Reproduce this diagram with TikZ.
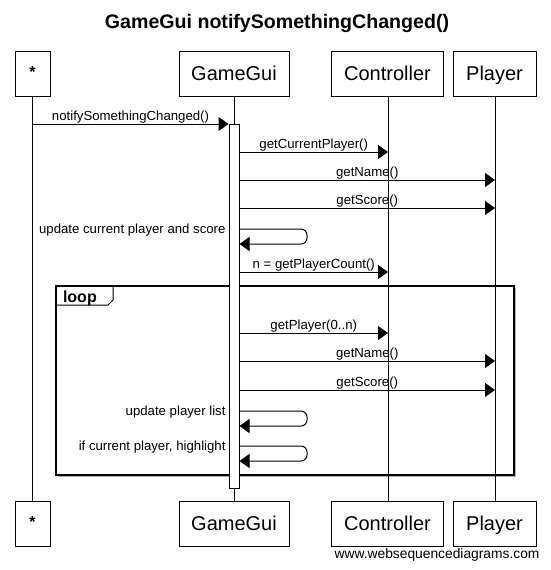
\documentclass[tikz,border=0pt]{standalone}
\usepackage{fontspec}
\setmainfont{Liberation Sans}
\usetikzlibrary{arrows.meta}
\begin{document}
\begin{tikzpicture}[x=1pt,y=-1pt,line width=1pt,
  actor/.style={draw,fill=white,minimum height=45pt,inner sep=0pt,
    text height=14.4pt,text depth=0pt,font=\fontsize{20}{24}\selectfont},
  msg/.style={-{Triangle[length=10pt,width=14pt]}},
  lbl/.style={font=\fontsize{13.2}{15}\selectfont,inner sep=0.5pt,text height=9.5pt,text depth=2.8pt},
  slbl/.style={font=\fontsize{13.2}{15}\selectfont,inner sep=0pt,anchor=base east},
  framebox/.style={line width=2pt},
  actbar/.style={draw,fill=white,minimum width=10pt,inner sep=0pt}]
\useasboundingbox (0,0) rectangle (551,570);
% title
\node[font=\fontsize{19.6}{22}\selectfont\bfseries,anchor=base,inner sep=0pt] (title) at (277,28.5) {GameGui notifySomethingChanged()};
% actors
\node[actor,minimum width=35pt] (s1) at (32.5,73.5) {\raisebox{3pt}{\fontsize{16}{18}\selectfont\bfseries *}};
\node[actor,minimum width=110pt] (g1) at (234,73.5) {GameGui};
\node[actor,minimum width=112pt] (c1) at (387.5,73.5) {Controller};
\node[actor,minimum width=83pt] (p1) at (494.5,73.5) {Player};
\node[actor,minimum width=35pt] (s2) at (32.5,523.5) {\raisebox{3pt}{\fontsize{16}{18}\selectfont\bfseries *}};
\node[actor,minimum width=110pt] (g2) at (234,523.5) {GameGui};
\node[actor,minimum width=112pt] (c2) at (387.5,523.5) {Controller};
\node[actor,minimum width=83pt] (p2) at (494.5,523.5) {Player};
% lifelines
\draw (s1.south) -- (s2.north);
\draw (g1.south) -- (g2.north);
\draw ([xshift=0.5pt]c1.south) -- ([xshift=0.5pt]c2.north);
\draw ([xshift=0.5pt]p1.south) -- ([xshift=0.5pt]p2.north);
% loop frame
\fill[gray!60] (57.5,287.5) rectangle (516,477);
\draw[framebox,fill=white] (56,286) rectangle (514,475);
\draw[line width=1pt] (56,305) -- (108,305) -- (113,300) -- (113,286);
\node[font=\fontsize{16}{18}\selectfont\bfseries,anchor=base west,inner sep=0pt] (looplbl) at (62.5,302.5) {loop};
% redraw lifelines over frame fill
\draw (s1.south) -- (s2.north);
\draw ([xshift=0.5pt]c1.south) -- ([xshift=0.5pt]c2.north);
\draw ([xshift=0.5pt]p1.south) -- ([xshift=0.5pt]p2.north);
% activation bar
\node[actbar,minimum height=364pt] (act) at (234,306) {};
% messages
\draw[msg] (s1.south |- 0,124) -- (act.west |- 0,124) node[midway,above,lbl] {notifySomethingChanged()};
\draw[msg] (act.east |- 0,152) -- ([xshift=0.5pt]c1.south |- 0,152) node[midway,above,lbl] {getCurrentPlayer()};
\draw[msg] (act.east |- 0,180) -- ([xshift=0.5pt]p1.south |- 0,180) node[midway,above,lbl] {getName()};
\draw[msg] (act.east |- 0,208) -- ([xshift=0.5pt]p1.south |- 0,208) node[midway,above,lbl] {getScore()};
\draw[msg,rounded corners=6pt] (act.east |- 0,229) -- (307,229) -- (307,244) -- (act.east |- 0,244);
\node[slbl] (l1) at (226,233) {update current player and score};
\draw[msg] (act.east |- 0,272) -- ([xshift=0.5pt]c1.south |- 0,272) node[midway,above,lbl] {n = getPlayerCount()};
\draw[msg] (act.east |- 0,333) -- ([xshift=0.5pt]c1.south |- 0,333) node[midway,above,lbl] {getPlayer(0..n)};
\draw[msg] (act.east |- 0,361) -- ([xshift=0.5pt]p1.south |- 0,361) node[midway,above,lbl] {getName()};
\draw[msg] (act.east |- 0,390) -- ([xshift=0.5pt]p1.south |- 0,390) node[midway,above,lbl] {getScore()};
\draw[msg,rounded corners=6pt] (act.east |- 0,411) -- (307,411) -- (307,426) -- (act.east |- 0,426);
\node[slbl] (l2) at (226,415) {update player list};
\draw[msg,rounded corners=6pt] (act.east |- 0,446) -- (307,446) -- (307,461) -- (act.east |- 0,461);
\node[slbl] (l3) at (226,450) {if current player, highlight};
% watermark
\node[font=\fontsize{13.8}{16}\selectfont,anchor=base east,inner sep=0pt] (wm) at (540,558) {www.websequencediagrams.com};
\end{tikzpicture}
\end{document}
